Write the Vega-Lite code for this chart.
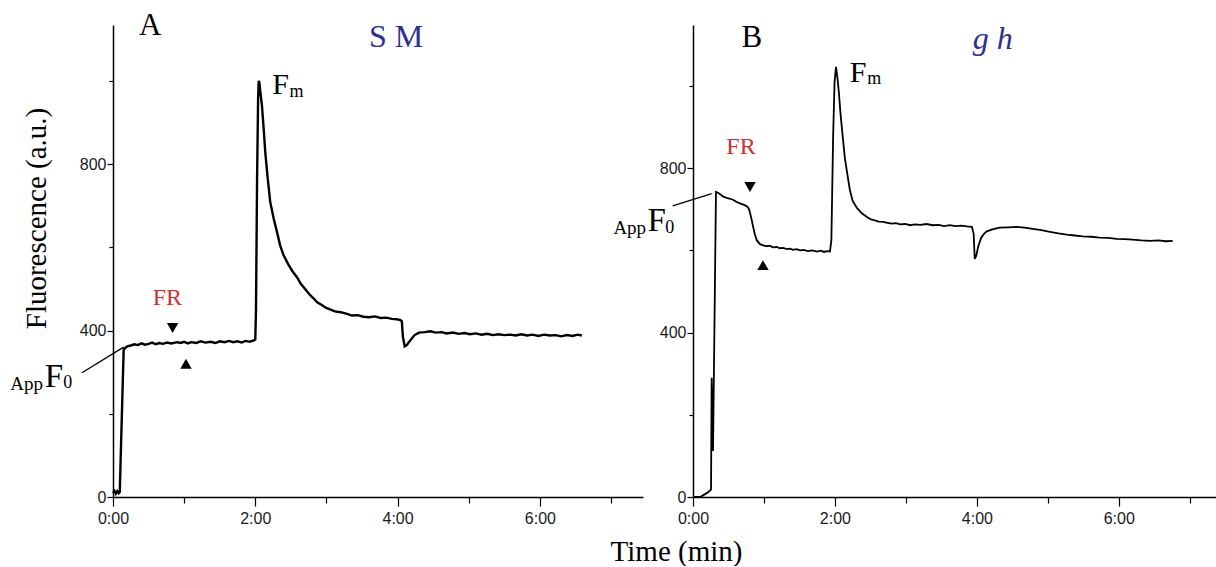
{
  "$schema": "https://vega.github.io/schema/vega-lite/v6.json",
  "background": "white",
  "padding": {"left": 10, "top": 9, "right": 0, "bottom": 0},
  "spacing": 50,
  "bounds": "flush",
  "config": {
    "view": {"stroke": null},
    "axis": {
      "domainColor": "black", "domainWidth": 1.5, "tickColor": "black", "tickWidth": 1.2,
      "labelFont": "Liberation Sans", "labelFontSize": 16, "labelColor": "#1a1a1a",
      "grid": false, "labelFlush": false, "labelOverlap": false,
      "titleFont": "Liberation Serif", "titleFontWeight": "normal", "titleColor": "black"
    },
    "text": {"font": "Liberation Serif", "color": "black", "baseline": "alphabetic"}
  },
  "datasets": {
    "a": [
      {"t":0,"v":10},{"t":0.02,"v":15},{"t":0.04,"v":8},{"t":0.06,"v":14},{"t":0.08,"v":9},{"t":0.095,"v":12},{"t":0.15,"v":355},{"t":0.2,"v":362},{"t":0.25,"v":364},{"t":0.3,"v":367},{"t":0.35,"v":365},{"t":0.4,"v":369},{"t":0.45,"v":366},{"t":0.5,"v":368},{"t":0.55,"v":371},{"t":0.6,"v":367},{"t":0.65,"v":370},{"t":0.7,"v":368},{"t":0.76,"v":371},{"t":0.82,"v":369},{"t":0.9,"v":372},{"t":0.95,"v":370},{"t":1.0,"v":373},{"t":1.05,"v":369},{"t":1.1,"v":372},{"t":1.17,"v":370},{"t":1.23,"v":374},{"t":1.3,"v":371},{"t":1.37,"v":373},{"t":1.44,"v":370},{"t":1.5,"v":374},{"t":1.57,"v":372},{"t":1.63,"v":375},{"t":1.69,"v":372},{"t":1.75,"v":374},{"t":1.81,"v":371},{"t":1.86,"v":375},{"t":1.92,"v":373},{"t":1.98,"v":376},{"t":2.0,"v":378},{"t":2.01,"v":450},{"t":2.025,"v":760},{"t":2.04,"v":960},{"t":2.048,"v":1000},{"t":2.058,"v":995},{"t":2.07,"v":975},{"t":2.094,"v":940},{"t":2.12,"v":880},{"t":2.14,"v":829},{"t":2.175,"v":765},{"t":2.21,"v":709},{"t":2.26,"v":668},{"t":2.305,"v":637},{"t":2.35,"v":604},{"t":2.4,"v":580},{"t":2.46,"v":560},{"t":2.52,"v":543},{"t":2.586,"v":528},{"t":2.64,"v":512},{"t":2.7,"v":500},{"t":2.76,"v":487},{"t":2.815,"v":478},{"t":2.87,"v":468},{"t":2.93,"v":462},{"t":2.99,"v":455},{"t":3.05,"v":451},{"t":3.12,"v":446},{"t":3.2,"v":444},{"t":3.29,"v":440},{"t":3.36,"v":436},{"t":3.44,"v":437},{"t":3.52,"v":433},{"t":3.6,"v":432},{"t":3.68,"v":434},{"t":3.76,"v":430},{"t":3.84,"v":431},{"t":3.92,"v":428},{"t":3.99,"v":427},{"t":4.04,"v":425},{"t":4.06,"v":422},{"t":4.075,"v":385},{"t":4.1,"v":362},{"t":4.13,"v":365},{"t":4.16,"v":372},{"t":4.2,"v":381},{"t":4.24,"v":389},{"t":4.3,"v":395},{"t":4.38,"v":396},{"t":4.46,"v":398},{"t":4.54,"v":395},{"t":4.62,"v":396},{"t":4.69,"v":393},{"t":4.78,"v":395},{"t":4.86,"v":392},{"t":4.94,"v":394},{"t":5.02,"v":391},{"t":5.1,"v":393},{"t":5.18,"v":390},{"t":5.26,"v":392},{"t":5.34,"v":389},{"t":5.42,"v":391},{"t":5.5,"v":389},{"t":5.58,"v":390},{"t":5.66,"v":388},{"t":5.74,"v":391},{"t":5.82,"v":388},{"t":5.9,"v":390},{"t":5.98,"v":387},{"t":6.06,"v":390},{"t":6.14,"v":388},{"t":6.22,"v":389},{"t":6.3,"v":386},{"t":6.38,"v":389},{"t":6.46,"v":387},{"t":6.53,"v":390},{"t":6.59,"v":388}
    ],
    "b": [
      {"t":0,"v":0},{"t":0.1,"v":0},{"t":0.14,"v":4},{"t":0.2,"v":10},{"t":0.254,"v":18},{"t":0.263,"v":290},{"t":0.282,"v":112},{"t":0.324,"v":742},{"t":0.35,"v":740},{"t":0.38,"v":737},{"t":0.42,"v":731},{"t":0.465,"v":728},{"t":0.51,"v":726},{"t":0.563,"v":723},{"t":0.61,"v":718},{"t":0.662,"v":714},{"t":0.71,"v":711},{"t":0.76,"v":707},{"t":0.79,"v":700},{"t":0.817,"v":682},{"t":0.845,"v":659},{"t":0.873,"v":638},{"t":0.9,"v":624},{"t":0.944,"v":615},{"t":0.99,"v":612},{"t":1.03,"v":610},{"t":1.08,"v":611},{"t":1.127,"v":607},{"t":1.18,"v":608},{"t":1.225,"v":605},{"t":1.27,"v":606},{"t":1.324,"v":603},{"t":1.37,"v":604},{"t":1.41,"v":601},{"t":1.46,"v":603},{"t":1.507,"v":600},{"t":1.56,"v":601},{"t":1.62,"v":598},{"t":1.68,"v":600},{"t":1.746,"v":597},{"t":1.8,"v":599},{"t":1.845,"v":596},{"t":1.89,"v":598},{"t":1.93,"v":597},{"t":1.95,"v":625},{"t":1.975,"v":880},{"t":1.995,"v":1010},{"t":2.015,"v":1046},{"t":2.035,"v":1020},{"t":2.055,"v":985},{"t":2.08,"v":930},{"t":2.113,"v":871},{"t":2.14,"v":825},{"t":2.17,"v":791},{"t":2.21,"v":747},{"t":2.25,"v":720},{"t":2.31,"v":703},{"t":2.38,"v":690},{"t":2.45,"v":681},{"t":2.5,"v":676},{"t":2.56,"v":673},{"t":2.62,"v":670},{"t":2.68,"v":669},{"t":2.74,"v":667},{"t":2.8,"v":665},{"t":2.86,"v":666},{"t":2.92,"v":663},{"t":2.99,"v":664},{"t":3.06,"v":661},{"t":3.13,"v":663},{"t":3.2,"v":662},{"t":3.29,"v":664},{"t":3.38,"v":661},{"t":3.46,"v":662},{"t":3.54,"v":659},{"t":3.62,"v":661},{"t":3.7,"v":659},{"t":3.78,"v":660},{"t":3.86,"v":658},{"t":3.93,"v":657},{"t":3.955,"v":640},{"t":3.97,"v":579},{"t":3.99,"v":586},{"t":4.02,"v":610},{"t":4.06,"v":630},{"t":4.1,"v":640},{"t":4.14,"v":646},{"t":4.22,"v":651},{"t":4.32,"v":655},{"t":4.44,"v":656},{"t":4.56,"v":657},{"t":4.67,"v":655},{"t":4.79,"v":652},{"t":4.91,"v":649},{"t":5.03,"v":645},{"t":5.15,"v":641},{"t":5.27,"v":638},{"t":5.38,"v":636},{"t":5.49,"v":634},{"t":5.61,"v":633},{"t":5.73,"v":631},{"t":5.85,"v":630},{"t":5.97,"v":628},{"t":6.08,"v":627},{"t":6.2,"v":626},{"t":6.32,"v":624},{"t":6.44,"v":623},{"t":6.56,"v":624},{"t":6.66,"v":622},{"t":6.76,"v":623}
    ]
  },
  "hconcat": [
    {
      "width": 530,
      "height": 472,
      "layer": [
        {
          "data": {"name": "a"},
          "mark": {"type": "line", "color": "black", "strokeWidth": 2.4},
          "encoding": {
            "x": {"field": "t", "type": "quantitative",
              "scale": {"domain": [0, 7.45], "nice": false, "zero": false},
              "axis": {"title": null, "values": [0,1,2,3,4,5,6,7],
                "labelExpr": "datum.value % 2 === 0 ? datum.value + ':00' : ''",
                "tickSize": {"condition": {"test": "datum.value % 2 === 0", "value": 9}, "value": 6},
                "labelPadding": 4}},
            "y": {"field": "v", "type": "quantitative",
              "scale": {"domain": [0, 1134], "nice": false},
              "axis": {"title": "Fluorescence (a.u.)", "values": [0,200,400,600,800,1000],
                "labelExpr": "datum.value % 400 === 0 ? datum.value + '' : ''",
                "tickSize": {"condition": {"test": "datum.value % 400 === 0", "value": 6}, "value": 4},
                "labelPadding": 1, "titleFontSize": 29,
                "titleX": -77, "titleY": 193, "titleAngle": 270,
                "titleAlign": "center", "titleBaseline": "middle"}}
          }
        },
        {"data": {"values": [{}]}, "mark": {"type": "text", "fontSize": 31, "align": "center"},
          "encoding": {"x": {"datum": 0.524}, "y": {"datum": 1110}, "text": {"value": "A"}}},
        {"data": {"values": [{}]}, "mark": {"type": "text", "fontSize": 32, "align": "center", "color": "#2e3192"},
          "encoding": {"x": {"datum": 3.98}, "y": {"datum": 1081}, "text": {"value": "S M"}}},
        {"data": {"values": [{}]}, "mark": {"type": "text", "fontSize": 30, "align": "left"},
          "encoding": {"x": {"datum": 2.24}, "y": {"datum": 968}, "text": {"value": "F"}}},
        {"data": {"values": [{}]}, "mark": {"type": "text", "fontSize": 18, "align": "left"},
          "encoding": {"x": {"datum": 2.48}, "y": {"datum": 961}, "text": {"value": "m"}}},
        {"data": {"values": [{}]}, "mark": {"type": "text", "fontSize": 24, "align": "center", "color": "#d0312d"},
          "encoding": {"x": {"datum": 0.765}, "y": {"datum": 461}, "text": {"value": "FR"}}},
        {"data": {"values": [{}]}, "mark": {"type": "point", "shape": "triangle-down", "filled": true, "size": 130, "color": "black", "opacity": 1},
          "encoding": {"x": {"datum": 0.838}, "y": {"datum": 406}}},
        {"data": {"values": [{}]}, "mark": {"type": "point", "shape": "triangle-up", "filled": true, "size": 130, "color": "black", "opacity": 1},
          "encoding": {"x": {"datum": 1.026}, "y": {"datum": 320}}},
        {"data": {"values": [{}]}, "mark": {"type": "rule", "color": "black", "strokeWidth": 1.3},
          "encoding": {"x": {"datum": -0.436}, "y": {"datum": 298.6}, "x2": {"datum": 0.149}, "y2": {"datum": 360}}},
        {"data": {"values": [{}]}, "mark": {"type": "text", "fontSize": 19, "align": "left"},
          "encoding": {"x": {"datum": -1.443}, "y": {"datum": 258}, "text": {"value": "App"}}},
        {"data": {"values": [{}]}, "mark": {"type": "text", "fontSize": 33, "align": "left"},
          "encoding": {"x": {"datum": -0.96}, "y": {"datum": 264}, "text": {"value": "F"}}},
        {"data": {"values": [{}]}, "mark": {"type": "text", "fontSize": 18, "align": "left"},
          "encoding": {"x": {"datum": -0.7}, "y": {"datum": 262}, "text": {"value": "0"}}}
      ]
    },
    {
      "width": 523,
      "height": 472,
      "layer": [
        {
          "data": {"name": "b"},
          "mark": {"type": "line", "color": "black", "strokeWidth": 1.8},
          "encoding": {
            "x": {"field": "t", "type": "quantitative",
              "scale": {"domain": [0, 7.37], "nice": false, "zero": false},
              "axis": {"title": "Time (min)", "values": [0,1,2,3,4,5,6,7],
                "labelExpr": "datum.value % 2 === 0 ? datum.value + ':00' : ''",
                "tickSize": {"condition": {"test": "datum.value % 2 === 0", "value": 9}, "value": 6},
                "labelPadding": 4, "titleFontSize": 29,
                "titleX": -17, "titleY": 63, "titleAlign": "center", "titleBaseline": "alphabetic"}},
            "y": {"field": "v", "type": "quantitative",
              "scale": {"domain": [0, 1148], "nice": false},
              "axis": {"title": null, "values": [0,200,400,600,800,1000],
                "labelExpr": "datum.value % 400 === 0 ? datum.value + '' : ''",
                "tickSize": {"condition": {"test": "datum.value % 400 === 0", "value": 6}, "value": 4},
                "labelPadding": 1}}
          }
        },
        {"data": {"values": [{}]}, "mark": {"type": "text", "fontSize": 31, "align": "center"},
          "encoding": {"x": {"datum": 0.83}, "y": {"datum": 1095}, "text": {"value": "B"}}},
        {"data": {"values": [{}]}, "mark": {"type": "text", "fontSize": 32, "align": "center", "fontStyle": "italic", "color": "#2e3192"},
          "encoding": {"x": {"datum": 4.225}, "y": {"datum": 1090}, "text": {"value": "g h"}}},
        {"data": {"values": [{}]}, "mark": {"type": "text", "fontSize": 30, "align": "left"},
          "encoding": {"x": {"datum": 2.21}, "y": {"datum": 1010}, "text": {"value": "F"}}},
        {"data": {"values": [{}]}, "mark": {"type": "text", "fontSize": 18, "align": "left"},
          "encoding": {"x": {"datum": 2.455}, "y": {"datum": 1004}, "text": {"value": "m"}}},
        {"data": {"values": [{}]}, "mark": {"type": "text", "fontSize": 24, "align": "center", "color": "#d0312d"},
          "encoding": {"x": {"datum": 0.676}, "y": {"datum": 835}, "text": {"value": "FR"}}},
        {"data": {"values": [{}]}, "mark": {"type": "point", "shape": "triangle-down", "filled": true, "size": 130, "color": "black", "opacity": 1},
          "encoding": {"x": {"datum": 0.803}, "y": {"datum": 754}}},
        {"data": {"values": [{}]}, "mark": {"type": "point", "shape": "triangle-up", "filled": true, "size": 130, "color": "black", "opacity": 1},
          "encoding": {"x": {"datum": 0.986}, "y": {"datum": 564}}},
        {"data": {"values": [{}]}, "mark": {"type": "rule", "color": "black", "strokeWidth": 1.3},
          "encoding": {"x": {"datum": -0.286}, "y": {"datum": 708}, "x2": {"datum": 0.263}, "y2": {"datum": 738}}},
        {"data": {"values": [{}]}, "mark": {"type": "text", "fontSize": 19, "align": "left"},
          "encoding": {"x": {"datum": -1.122}, "y": {"datum": 639}, "text": {"value": "App"}}},
        {"data": {"values": [{}]}, "mark": {"type": "text", "fontSize": 33, "align": "left"},
          "encoding": {"x": {"datum": -0.64}, "y": {"datum": 648}, "text": {"value": "F"}}},
        {"data": {"values": [{}]}, "mark": {"type": "text", "fontSize": 18, "align": "left"},
          "encoding": {"x": {"datum": -0.39}, "y": {"datum": 641}, "text": {"value": "0"}}}
      ]
    }
  ]
}
